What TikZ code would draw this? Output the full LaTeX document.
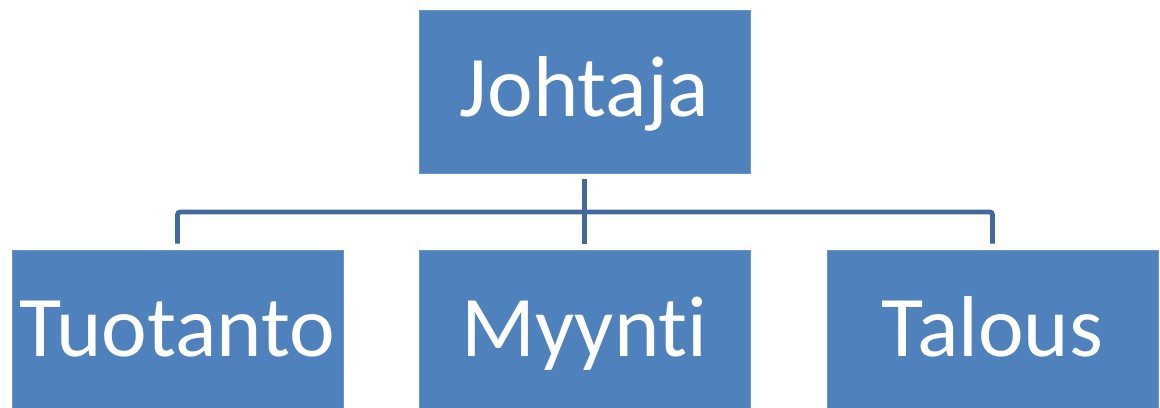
\documentclass[tikz,border=0pt]{standalone}
\usepackage{fontspec}
\setmainfont[Ligatures=NoCommon]{Carlito}
\usetikzlibrary{calc}

\definecolor{boxblue}{HTML}{4F81BD}
\definecolor{lineblue}{HTML}{41699B}

\tikzset{
	unit/.style={rectangle, fill=boxblue, draw=boxblue!85!white, line width=0.4pt, minimum width=8.275cm, minimum height=4.075cm, inner sep=0pt, text=white, font=\fontsize{61.5}{70}\selectfont, text height=36pt, text depth=0pt},
	link/.style={lineblue, line width=3.5pt, rounded corners=2pt}
}

\begin{document}
\begin{tikzpicture}[x=0.025cm, y=-0.025cm]
	\useasboundingbox (0,0) rectangle (1160,408);

	%Boxes
	\node[unit] (johtaja) at (584.5,91.5) {Johtaja};
	\node[unit] (tuotanto) at (177.5,331.5) {Tuotanto};
	\node[unit] (myynti) at (584.5,331.5) {Myynti};
	\node[unit] (talous) at (992.5,331.5) {Talous};

	%Lines
	\coordinate (bus) at (584.5,212);
	\draw[link] ([yshift=-4.3pt]johtaja.south) -- ([yshift=4.3pt]myynti.north);
	\draw[link] ([yshift=4.3pt]tuotanto.north) |- (bus) -| ([yshift=4.3pt]talous.north);
\end{tikzpicture}
\end{document}
